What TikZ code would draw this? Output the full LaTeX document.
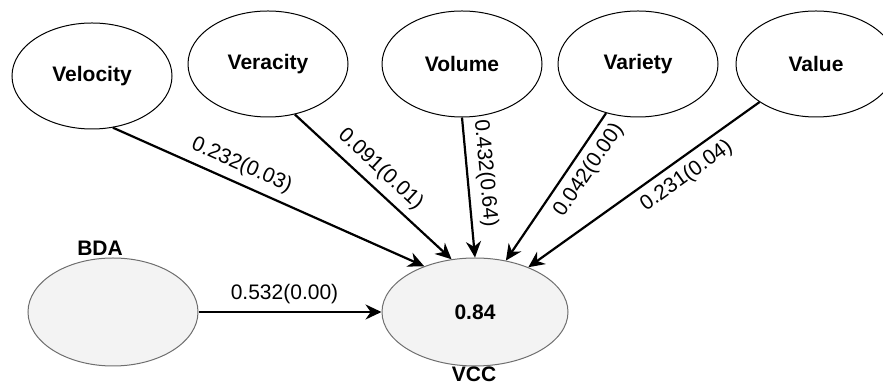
\documentclass[tikz,border=0pt]{standalone}
\usepackage{fontspec}
\setmainfont{Liberation Sans}
\usepackage{tikz}
\usetikzlibrary{shapes.geometric, arrows.meta, positioning}
\definecolor{latentfill}{HTML}{F3F3F3}
\definecolor{latentrim}{HTML}{6E6E6E}

\begin{document}
\begin{tikzpicture}[x=0.5pt, y=-0.5pt,
  factor/.style={ellipse, draw=black, line width=0.5pt, fill=white, minimum width=80pt, minimum height=53pt, inner sep=0pt, font=\fontsize{10.5}{12}\selectfont\bfseries},
  latent/.style={factor, draw=latentrim, fill=latentfill},
  link/.style={-{Stealth[length=8pt, width=7.5pt]}, line width=1.1pt},
  weight/.style={font=\fontsize{10.5}{12}\selectfont, sloped, inner sep=3.5pt}]
\useasboundingbox (0,0) rectangle (883,383);

% The five V dimensions
\node[factor] (velocity) at (92,76) {Velocity};
\node[factor] (veracity) at (268,64) {Veracity};
\node[factor] (volume) at (462,64) {Volume};
\node[factor] (variety) at (638,64) {Variety};
\node[factor] (value) at (816,64) {Value};

% BDA and VCC
\node[latent, minimum width=85pt, minimum height=54pt] (bda) at (113,312) {};
\node[latent, minimum width=93pt, minimum height=54pt] (vcc) at (475,312) {0.84};
\node[font=\fontsize{10.5}{12}\selectfont\bfseries] (bdaname) at (100,248) {BDA};
\node[font=\fontsize{10.5}{12}\selectfont\bfseries] (vccname) at (474,374) {VCC};

% Paths with coefficients (p-values)
\draw[link] (velocity.-68) -- node[weight, anchor=south, pos=0.39] (wvel) {0.232(0.03)} (vcc.138);
\draw[link] (veracity.-62) -- node[weight, anchor=south, pos=0.47] (wver) {0.091(0.01)} (vcc.114);
\draw[link] (volume.-90) -- node[weight, anchor=south, pos=0.41] (wvol) {0.432(0.64)} (vcc.90);
\draw[link] (variety.-123) -- node[weight, anchor=north, pos=0.32] (wvar) {0.042(0.00)} (vcc.59);
\draw[link] (value.-146) -- node[weight, anchor=north, pos=0.36] (wval) {0.231(0.04)} (vcc.40);
\draw[link] (bda) -- node[weight, anchor=south, pos=0.47] (wbda) {0.532(0.00)} (vcc);

\end{tikzpicture}
\end{document}
